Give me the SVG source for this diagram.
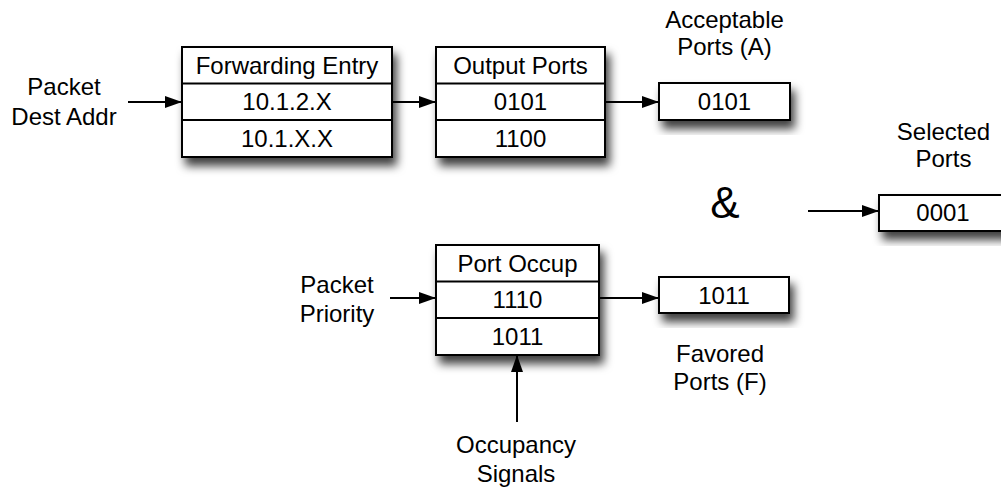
<svg xmlns="http://www.w3.org/2000/svg" width="1001" height="487" viewBox="0 0 1001 487">
  <style>
    text { font-family: "Liberation Sans", Arial, Helvetica, sans-serif; font-size: 24px; fill: #000; text-anchor: middle; }
    .cell { fill: #fff; stroke: #000; stroke-width: 2; }
    .div { stroke: #000; stroke-width: 2; fill: none; }
    .wire { stroke: #000; stroke-width: 2; fill: none; marker-end: url(#arrow); }
    .amp { font-size: 44px; }
  </style>
  <defs>
    <filter id="shadow" x="-10%" y="-10%" width="125%" height="150%">
      <feDropShadow dx="4" dy="8" stdDeviation="5" flood-color="#000" flood-opacity="0.75"/>
    </filter>
    <marker id="arrow" viewBox="0 0 17 12" refX="17" refY="6" markerWidth="17" markerHeight="12" markerUnits="userSpaceOnUse" orient="auto">
      <path d="M0,0 L17,6 L0,12 Z" fill="#000"/>
    </marker>
  </defs>

  <!-- Forwarding table -->
  <g id="forwarding-entry">
    <rect class="cell" x="182" y="47" width="210" height="110" filter="url(#shadow)"/>
    <line class="div" x1="182" y1="83.5" x2="392" y2="83.5"/>
    <line class="div" x1="182" y1="120" x2="392" y2="120"/>
    <text x="287" y="74">Forwarding Entry</text>
    <text x="287" y="110">10.1.2.X</text>
    <text x="287" y="147">10.1.X.X</text>
  </g>

  <!-- Output port table -->
  <g id="output-ports">
    <rect class="cell" x="436" y="47" width="169" height="110" filter="url(#shadow)"/>
    <line class="div" x1="436" y1="83.5" x2="605" y2="83.5"/>
    <line class="div" x1="436" y1="120" x2="605" y2="120"/>
    <text x="520.5" y="74">Output Ports</text>
    <text x="520.5" y="110">0101</text>
    <text x="520.5" y="147">1100</text>
  </g>

  <!-- Acceptable ports register -->
  <g id="acceptable-ports">
    <rect class="cell" x="659" y="83" width="131" height="37" filter="url(#shadow)"/>
    <text x="724.5" y="110">0101</text>
    <text x="724.5" y="28">Acceptable</text>
    <text x="724.5" y="55">Ports (A)</text>
  </g>

  <!-- Port occupancy table -->
  <g id="port-occup">
    <rect class="cell" x="436" y="245" width="163" height="110" filter="url(#shadow)"/>
    <line class="div" x1="436" y1="281.5" x2="599" y2="281.5"/>
    <line class="div" x1="436" y1="318" x2="599" y2="318"/>
    <text x="517.5" y="272">Port Occup</text>
    <text x="517.5" y="308">1110</text>
    <text x="517.5" y="345">1011</text>
  </g>

  <!-- Favored ports register -->
  <g id="favored-ports">
    <rect class="cell" x="659" y="277" width="130" height="36" filter="url(#shadow)"/>
    <text x="724" y="304">1011</text>
    <text x="720" y="362">Favored</text>
    <text x="720" y="390">Ports (F)</text>
  </g>

  <!-- Selected ports register -->
  <g id="selected-ports">
    <rect class="cell" x="879" y="195" width="128" height="36" filter="url(#shadow)"/>
    <text x="943" y="221">0001</text>
    <text x="943.5" y="140">Selected</text>
    <text x="943.5" y="167">Ports</text>
  </g>

  <!-- AND operator -->
  <g id="and-op">
    <text class="amp" x="725" y="218">&amp;</text>
  </g>

  <!-- Input labels -->
  <g id="packet-dest-addr">
    <text x="64" y="95">Packet</text>
    <text x="64" y="125">Dest Addr</text>
  </g>
  <g id="packet-priority">
    <text x="337" y="293">Packet</text>
    <text x="337" y="322">Priority</text>
  </g>
  <g id="occupancy-signals">
    <text x="516" y="453">Occupancy</text>
    <text x="516" y="482">Signals</text>
  </g>

  <!-- Connectors -->
  <g id="connectors">
    <line class="wire" x1="128" y1="102" x2="182" y2="102"/>
    <line class="wire" x1="392" y1="102" x2="436" y2="102"/>
    <line class="wire" x1="605" y1="102" x2="659" y2="102"/>
    <line class="wire" x1="808" y1="211" x2="879" y2="211"/>
    <line class="wire" x1="390" y1="298" x2="436" y2="298"/>
    <line class="wire" x1="599" y1="298" x2="659" y2="298"/>
    <line class="wire" x1="517" y1="422" x2="517" y2="355"/>
  </g>
</svg>
